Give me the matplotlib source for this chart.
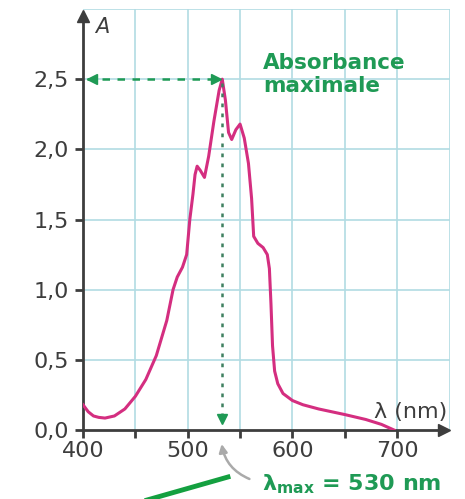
import matplotlib
matplotlib.use("Agg")
import matplotlib.pyplot as plt
from matplotlib.ticker import FixedLocator, FuncFormatter

# absorption spectrum
wavelength = [400, 405, 410, 415, 421, 430, 440, 450, 460, 470, 480, 486, 490, 495,
              499, 502, 505, 507, 509, 512, 516, 520, 525, 530, 533, 536, 539, 542,
              546, 550, 554, 558, 561, 563, 567, 572, 576, 578, 579.5, 581, 583, 586,
              591, 600, 610, 625, 650, 670, 685, 697]
absorbance = [0.18, 0.13, 0.10, 0.09, 0.085, 0.10, 0.15, 0.24, 0.36, 0.53, 0.78, 1.0,
              1.09, 1.16, 1.25, 1.50, 1.68, 1.82, 1.88, 1.85, 1.80, 1.95, 2.20, 2.42,
              2.50, 2.35, 2.12, 2.07, 2.14, 2.18, 2.08, 1.90, 1.65, 1.38, 1.33, 1.30,
              1.25, 1.15, 0.90, 0.60, 0.42, 0.33, 0.26, 0.21, 0.18, 0.15, 0.11, 0.075,
              0.04, 0.0]

x_ticks = [400, 500, 600, 700]
x_minor = [450, 550, 650]
y_ticks = [0.0, 0.5, 1.0, 1.5, 2.0, 2.5]

green = "#1f9a55"
grey = "#3d3d3d"
curve_color = "#d42e80"
grid_color = "#b2dce3"

fig = plt.figure(figsize=(4.65, 4.99), dpi=100)
ax = fig.add_axes([83 / 465, 69 / 499, 366.5 / 465, 421 / 499])
ax.set_xlim(400, 750)
ax.set_ylim(0, 3.0)

# grid
for gx in range(450, 751, 50):
    ax.axvline(gx, color=grid_color, lw=1.2, zorder=0)
for gy in [0.5, 1.0, 1.5, 2.0, 2.5, 3.0]:
    ax.axhline(gy, color=grid_color, lw=1.2, zorder=0)

# spines and arrows
for side in ["top", "right"]:
    ax.spines[side].set_visible(False)
for side in ["left", "bottom"]:
    ax.spines[side].set_color(grey)
    ax.spines[side].set_linewidth(2)
ax.spines["bottom"].set_bounds(400, 745)
ax.spines["left"].set_bounds(0, 2.95)
ax.plot(745, 0, ">", color=grey, ms=8, clip_on=False, zorder=5)
ax.plot(400, 2.95, "^", color=grey, ms=8, clip_on=False, zorder=5)

ax.xaxis.set_major_locator(FixedLocator(x_ticks))
ax.xaxis.set_minor_locator(FixedLocator(x_minor))
ax.yaxis.set_major_locator(FixedLocator(y_ticks))
ax.yaxis.set_major_formatter(FuncFormatter(lambda v, p: f"{v:.1f}".replace(".", ",")))
ax.tick_params(axis="both", which="both", direction="out", length=6, width=2,
               color=grey, labelcolor=grey, labelsize=16)
ax.tick_params(axis="x", pad=2)
ax.tick_params(axis="y", pad=4)

# spectrum
ax.plot(wavelength, absorbance, color=curve_color, lw=2.2, zorder=3)

# maximum markers
i_max = absorbance.index(max(absorbance))
lam_max = wavelength[i_max]
a_max = absorbance[i_max]
ax.plot([404, lam_max - 3], [a_max, a_max], color=green, lw=1.8, ls=(0, (3, 3)), zorder=4)
ax.plot(409, a_max, "<", color=green, ms=7, zorder=5)
ax.plot(lam_max - 6, a_max, ">", color=green, ms=7, zorder=5)
ax.plot([lam_max, lam_max], [a_max - 0.03, 0.1], color="#3f8060", lw=1.8,
        ls=(0, (1.5, 2.5)), zorder=4)
ax.plot(lam_max, 0.08, "v", color=green, ms=7, zorder=5)

ax.text(572, 2.41, "Absorbance\nmaximale", color=green, fontsize=15.5,
        fontweight="bold", linespacing=1.2, va="baseline")

# axis labels
fig.text(95 / 465, 1 - 33 / 499, "A", color=grey, fontsize=15, style="italic")
fig.text(447 / 465, 1 - 418 / 499, "λ (nm)", color=grey, fontsize=16, ha="right")

# bottom annotation
fig.text(262 / 465, 1 - 490 / 499, r"λ$_{\mathbf{max}}$ = 530 nm", color=green,
         fontsize=16, fontweight="bold")
ax.annotate("", xy=(lam_max - 1, -0.08), xycoords="data",
            xytext=(252 / 465, 1 - 480 / 499), textcoords="figure fraction",
            arrowprops=dict(arrowstyle="-|>", color="#aaaaaa", lw=1.8,
                            connectionstyle="arc3,rad=-0.3", mutation_scale=12),
            annotation_clip=False)
fig.add_artist(plt.Line2D([140 / 465, 228 / 465], [1 - 502 / 499, 1 - 477 / 499],
                          color="#14a040", lw=3.5, transform=fig.transFigure))

fig.savefig("out.png", dpi=100)
